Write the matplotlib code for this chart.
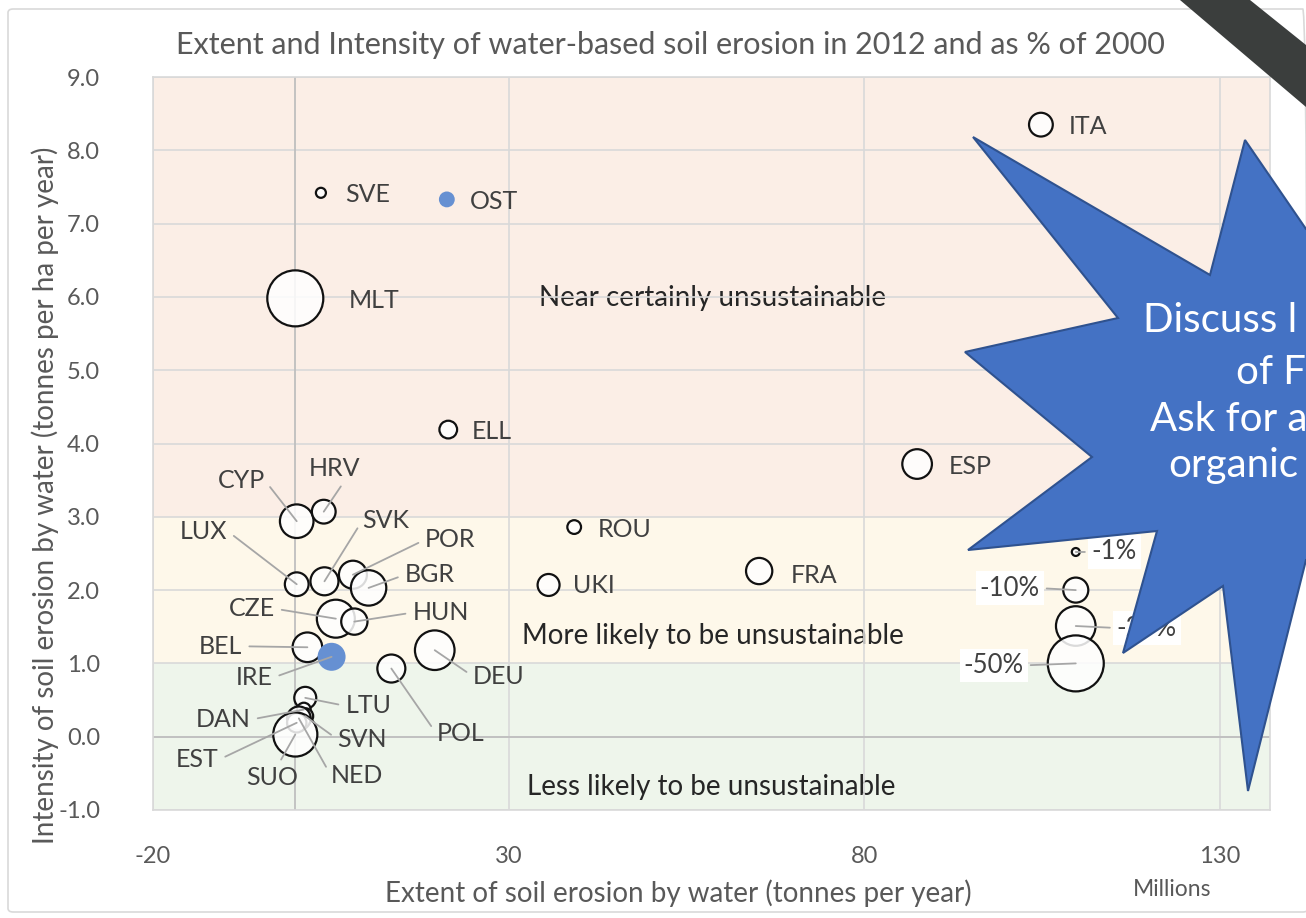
import numpy as np
import matplotlib.pyplot as plt
from matplotlib.patches import Polygon, FancyBboxPatch

plt.rcParams['font.family'] = ['Lato', 'DejaVu Sans']

# bubble data: extent (million t/yr), intensity (t/ha/yr), change since 2000 (% magnitude)
countries = ['ITA', 'SVE', 'OST', 'MLT', 'ELL', 'ESP', 'ROU', 'UKI', 'FRA',
             'CYP', 'HRV', 'LUX', 'SVK', 'POR', 'BGR', 'CZE', 'HUN', 'BEL',
             'IRE', 'DEU', 'POL', 'LTU', 'DAN', 'SVN', 'NED', 'EST', 'SUO']
extent = [104.8, 3.6, 21.3, 0.0, 21.5, 87.4, 39.2, 35.6, 65.2,
          0.2, 4.0, 0.2, 4.1, 8.1, 10.3, 5.7, 8.3, 1.7,
          5.1, 19.6, 13.5, 1.4, 1.2, 1.4, 0.5, 0.2, 0.0]
intensity = [8.35, 7.42, 7.33, 5.98, 4.19, 3.72, 2.86, 2.07, 2.26,
             2.94, 3.07, 2.08, 2.12, 2.21, 2.03, 1.61, 1.57, 1.22,
             1.09, 1.18, 0.93, 0.53, 0.37, 0.28, 0.25, 0.19, 0.03]
change = [9, 1.6, 4, 50, 5, 14, 3, 7.7, 11,
          18, 9, 9, 12.5, 12.5, 20, 23, 11, 14,
          12.5, 25, 12.5, 7.7, 3, 4, 9, 6, 31]
increased = ['OST', 'IRE']

# size key
key_labels = ['-1%', '-10%', '-25%', '-50%']
key_change = [1, 10, 25, 50]
key_x = [109.7, 109.7, 109.7, 109.7]
key_y = [2.52, 2.0, 1.51, 1.0]

# zones
zone_names = ['Near certainly unsustainable', 'More likely to be unsustainable',
              'Less likely to be unsustainable']
zone_lo = [3.0, 1.0, -1.0]
zone_hi = [9.0, 3.0, 1.0]
zone_label_x = [34.3, 31.8, 32.5]
zone_label_y = [5.98, 1.38, -0.68]
zone_colors = ['#FBEEE6', '#FEF8EA', '#EEF5EB']

# label placement (pixel offsets from bubble, alignment, leader line)
label_pos = {
    'ITA': (28, -2, 'left', False), 'SVE': (24, -2, 'left', False),
    'OST': (23, -2, 'left', False), 'MLT': (53, -2, 'left', False),
    'ELL': (23, -2, 'left', False), 'ESP': (32, -2, 'left', False),
    'ROU': (24, -2, 'left', False), 'UKI': (24, -1, 'left', False),
    'FRA': (32, -4, 'left', False),
    'CYP': (-32, 41, 'right', True), 'HRV': (11, 43, 'center', True),
    'LUX': (-69, 53, 'right', True), 'SVK': (38, 61, 'left', True),
    'POR': (72, 35, 'left', True), 'BGR': (36, 13, 'left', True),
    'CZE': (-61, 10, 'right', True), 'HUN': (58, 9, 'left', True),
    'BEL': (-65, 1, 'right', True), 'IRE': (-59, -21, 'right', True),
    'DEU': (38, -26, 'left', True), 'POL': (45, -65, 'left', True),
    'LTU': (40, -8, 'left', True), 'DAN': (-53, -10, 'right', True),
    'SVN': (32, -23, 'left', True), 'EST': (-78, -37, 'right', True),
    'SUO': (-23, -43, 'center', True), 'NED': (32, -57, 'left', True),
}
key_pos = [(16, 0, 'left'), (-36, 2, 'right'), (41, -2, 'left'), (-52, -2, 'right')]
relpos_special = {'HRV': (0.7, 0.0), 'SUO': (0.6, 1.0)}

W, H = 1306, 918
fig = plt.figure(figsize=(W / 100, H / 100), dpi=100)
ax = fig.add_axes([153 / W, 1 - 810 / H, 1117 / W, 733 / H])

def size(v):
    # bubble area proportional to change; 50% -> radius 28 px
    return (2 * 28 * 0.72) ** 2 * np.asarray(v) / 50.0

for lo, hi, c in zip(zone_lo, zone_hi, zone_colors):
    ax.axhspan(lo, hi, color=c, zorder=0.1, lw=0)
for name, zx, zy in zip(zone_names, zone_label_x, zone_label_y):
    ax.text(zx, zy, name, fontsize=20, color='#262626', ha='left', va='center', zorder=0.3)

ax.set_xlim(-20, 137)
ax.set_ylim(-1, 9)
ax.set_xticks([-20, 30, 80, 130])
ax.set_xticklabels(['-20', '30', '80', '130'])
ax.set_yticks(np.arange(-1, 10))
ax.set_yticklabels([f'{v:.1f}' for v in np.arange(-1, 10)])
ax.tick_params(length=0, labelsize=17, labelcolor='#595959')
ax.tick_params(axis='x', pad=26)
ax.tick_params(axis='y', pad=38)
ax.grid(True, color='#D9D9D9', lw=1.2)
ax.set_axisbelow(True)
ax.axvline(0, color='#BFBFBF', lw=1.3, zorder=0.6)
ax.axhline(0, color='#BFBFBF', lw=1.3, zorder=0.6)
for sp in ax.spines.values():
    sp.set_color('#D9D9D9')
    sp.set_linewidth(1.2)

face = ['#6690D2' if c in increased else (1, 1, 1, 0.85) for c in countries]
edge = ['none' if c in increased else '#111111' for c in countries]
ax.scatter(extent, intensity, s=size(change), facecolors=face, edgecolors=edge,
           linewidths=1.6, zorder=2)
ax.scatter(key_x, key_y, s=size(key_change), facecolors=(1, 1, 1, 0.85),
           edgecolors='#111111', linewidths=1.6, zorder=2)

for name, x, y in zip(countries, extent, intensity):
    dx, dy, ha, line = label_pos[name]
    kw = {}
    if line:
        rp = relpos_special.get(name, (1, 0.5) if ha == 'right' else (0, 0.5))
        kw['arrowprops'] = dict(arrowstyle='-', color='#A6A6A6', lw=1.3,
                                shrinkA=3, shrinkB=0, relpos=rp)
    ax.annotate(name, xy=(x, y), xytext=(dx, dy), textcoords='offset pixels',
                ha=ha, va='center', fontsize=18, color='#404040', zorder=3, **kw)

for lab, x, y, (dx, dy, ha) in zip(key_labels, key_x, key_y, key_pos):
    ax.annotate(lab, xy=(x, y), xytext=(dx, dy), textcoords='offset pixels',
                ha=ha, va='center', fontsize=18.5, color='#404040', zorder=3,
                bbox=dict(facecolor='white', edgecolor='none', pad=3),
                arrowprops=dict(arrowstyle='-', color='#A6A6A6', lw=1.3,
                                shrinkA=2, shrinkB=0,
                                relpos=(0, 0.5) if ha == 'left' else (1, 0.5)))

fig.text(670 / W, 1 - 45 / H,
         'Extent and Intensity of water-based soil erosion in 2012 and as % of 2000',
         ha='center', va='center', fontsize=22, color='#595959')
fig.text(678 / W, 1 - 893 / H, 'Extent of soil erosion by water (tonnes per year)',
         ha='center', va='center', fontsize=20, color='#595959')
fig.text(1172 / W, 1 - 890 / H, 'Millions', ha='center', va='center',
         fontsize=16.5, color='#595959')
fig.text(45 / W, 1 - 495 / H,
         'Intensity of soil erosion by water (tonnes per ha per year)',
         ha='center', va='center', rotation=90, fontsize=20, color='#595959')

# chart frame
fig.add_artist(FancyBboxPatch((8 / W, 1 - 912 / H), 1300 / W, 903 / H,
                              boxstyle='round,pad=0,rounding_size=0.004',
                              transform=fig.transFigure, fill=False,
                              ec='#D9D9D9', lw=1.2))

# overlaid slide shapes
def fig_pts(pts):
    return [(x / W, 1 - y / H) for x, y in pts]

stripe = [(1180, 0), (1250, 0), (1306, 45), (1306, 107)]
fig.add_artist(Polygon(fig_pts(stripe), closed=True, transform=fig.transFigure,
                       fc='#3B3E3D', ec='none'))

star = [(1245, 140), (1306, 229), (1340, 229), (1340, 560), (1306, 560),
        (1248, 791), (1223, 586), (1123, 653), (1157, 531), (968, 550),
        (1092, 457), (965, 352), (1118, 318), (973, 137), (1210, 275)]
fig.add_artist(Polygon(fig_pts(star), closed=True, transform=fig.transFigure,
                       fc='#4472C4', ec='#2F528F', lw=1.5, zorder=5))
star_lines = [('Discuss l', 1143, 320), ('of F', 1236, 372),
              ('Ask for a', 1150, 419), ('organic', 1168, 465)]
for t, x, y in star_lines:
    fig.text(x / W, 1 - y / H, t, ha='left', va='center', fontsize=29,
             color='white', zorder=6)

fig.savefig('out.png', dpi=100)
